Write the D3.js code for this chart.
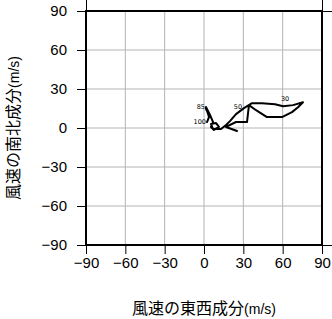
<!DOCTYPE html>
<html>
<head>
<meta charset="utf-8">
<script src="https://cdn.jsdelivr.net/npm/d3@7"></script>
<style>
  body { margin: 0; background: #fff; }
  svg { display: block; }
</style>
</head>
<body>
<div id="chart"></div>
<script>
// hodograph: wind components (m/s), surface upward
const uWind = [2.3, 3.8, 3.1, 2.3, 1.5, 1.5, 4.6, 6.9, 5.3, 7.6, 11.4, 9.2, 5.3, 6.9, 13, 16.8, 19.8,
  24.4, 30.5, 36.6, 44.2, 54.2, 60.3, 67.9, 75.5, 71.7, 67.1, 59.5, 48, 39.7, 34.3, 32.8, 24.4, 16.8, 25.2];
const vWind = [4.6, 8.4, 10.8, 13.1, 14.6, 16.2, 10, 4.6, 0.8, -1.5, 0.8, 3.8, 3.1, -0.8, -0.8, 2.3, 5.3,
  10.7, 15.3, 19.1, 19.1, 18.3, 16.8, 17.6, 19.8, 16, 12.2, 8.4, 8.4, 13.7, 17.6, 4.6, 4.6, 0.8, -2.3];
// level labels (index into the series above)
const levelIdx = [0, 5, 17, 22];
const levelNames = ['100', '85', '50', '30'];

const axisTicks = [-90, -60, -30, 0, 30, 60, 90];
const xTitle = '風速の東西成分';
const yTitle = '風速の南北成分';
const unit = '(m/s)';

const width = 332, height = 319;
const margin = { top: 11, right: 10, bottom: 74, left: 86 };

const svg = d3.select('#chart').append('svg')
  .attr('width', width)
  .attr('height', height);

const x = d3.scaleLinear().domain([-90, 90]).range([margin.left, width - margin.right]);
const y = d3.scaleLinear().domain([-90, 90]).range([height - margin.bottom, margin.top]);

const fmt = (d) => (d < 0 ? '\u2212' + Math.abs(d) : String(d));

// grid
svg.append('g').selectAll('line.gx')
  .data(axisTicks.slice(1, -1))
  .join('line')
  .attr('x1', (d) => x(d)).attr('x2', (d) => x(d))
  .attr('y1', y(-90)).attr('y2', y(90))
  .attr('stroke', '#b4b4b4').attr('stroke-width', 1);
svg.append('g').selectAll('line.gy')
  .data(axisTicks.slice(1, -1))
  .join('line')
  .attr('y1', (d) => y(d)).attr('y2', (d) => y(d))
  .attr('x1', x(-90)).attr('x2', x(90))
  .attr('stroke', '#b4b4b4').attr('stroke-width', 1);

// axes
const styleAxis = (g) => {
  g.select('.domain').remove();
  g.selectAll('.tick line').attr('stroke', '#000').attr('stroke-width', 1);
  g.selectAll('.tick text')
    .attr('fill', '#000')
    .attr('font-family', '"Liberation Sans", Arial, sans-serif')
    .attr('font-size', '15px');
};

svg.append('g')
  .attr('transform', `translate(0,${y(-90)})`)
  .call(d3.axisBottom(x).tickValues(axisTicks).tickSize(9).tickPadding(3).tickFormat(fmt))
  .call(styleAxis);

svg.append('g')
  .attr('transform', `translate(${x(-90)},0)`)
  .call(d3.axisLeft(y).tickValues(axisTicks).tickSize(9).tickPadding(10).tickFormat(fmt))
  .call(styleAxis);

svg.append('g')
  .attr('transform', `translate(0,${y(90)})`)
  .call(d3.axisTop(x).tickValues([-90, 90]).tickSize(11).tickFormat(''))
  .call(styleAxis);

svg.append('g')
  .attr('transform', `translate(${x(90)},0)`)
  .call(d3.axisRight(y).tickValues([-90, 90]).tickSize(10).tickFormat(''))
  .call(styleAxis);

// frame
svg.append('rect')
  .attr('x', x(-90)).attr('y', y(90))
  .attr('width', x(90) - x(-90)).attr('height', y(-90) - y(90))
  .attr('fill', 'none').attr('stroke', '#000').attr('stroke-width', 2);

// hodograph
const pts = uWind.map((u, i) => [u, vWind[i]]);
svg.append('path')
  .datum(pts)
  .attr('fill', 'none')
  .attr('stroke', '#000')
  .attr('stroke-width', 2)
  .attr('stroke-linejoin', 'round')
  .attr('stroke-linecap', 'round')
  .attr('d', d3.line().x((d) => x(d[0])).y((d) => y(d[1])));

svg.append('g').selectAll('text')
  .data(levelIdx)
  .join('text')
  .attr('x', (d) => x(uWind[d]))
  .attr('y', (d) => y(vWind[d]))
  .attr('text-anchor', (d) => (uWind[d] < 10 ? 'end' : 'middle'))
  .attr('dx', (d) => (uWind[d] < 10 ? -1 : 2))
  .attr('dy', (d) => (uWind[d] < 10 ? 2 : -5))
  .attr('font-family', '"DejaVu Sans", sans-serif')
  .attr('font-size', '6.5px')
  .attr('fill', '#000')
  .text((d, i) => levelNames[i]);

// titles
const title = (g) => g.append('text')
  .attr('text-anchor', 'middle')
  .attr('fill', '#000');

const xt = title(svg.append('g').attr('transform', `translate(${x(0)},314)`));
xt.append('tspan')
  .attr('font-family', '"Noto Sans CJK JP", sans-serif')
  .attr('font-size', '16px')
  .text(xTitle);
xt.append('tspan')
  .attr('font-family', '"Liberation Sans", Arial, sans-serif')
  .attr('font-size', '14px')
  .text(unit);

const yt = title(svg.append('g').attr('transform', `translate(19,${y(0)}) rotate(-90)`));
yt.append('tspan')
  .attr('font-family', '"Noto Sans CJK JP", sans-serif')
  .attr('font-size', '16px')
  .text(yTitle);
yt.append('tspan')
  .attr('font-family', '"Liberation Sans", Arial, sans-serif')
  .attr('font-size', '14px')
  .text(unit);
</script>
</body>
</html>
